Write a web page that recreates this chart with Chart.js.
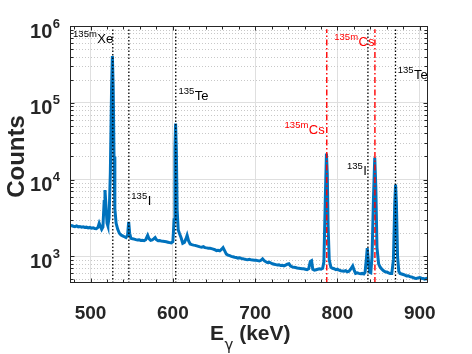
<!DOCTYPE html>
<html>
<head>
<meta charset="utf-8">
<script src="https://cdn.jsdelivr.net/npm/chart.js@4.4.0/dist/chart.umd.min.js"></script>
<style>
    html, body { margin: 0; padding: 0; background: #fff; }
</style>
</head>
<body>
<canvas id="spectrum" width="472" height="354"></canvas>
<script>
// gamma spectrum, energy (keV) / counts
const energies = [
    475, 477, 479, 481, 483, 485, 487, 489, 491, 493,
    495, 497, 499, 501, 503, 505, 507, 509, 510.5, 512,
    513.5, 515, 516.5, 517.5, 518.5, 520, 521, 522.5, 524, 525.5,
    526.5, 527.5, 528.5, 529.5, 531, 533, 535, 537, 539, 541,
    543, 545, 546.3, 547.5, 549, 551, 553, 555, 557, 559,
    561, 563, 565, 567, 569.4, 571, 573, 575, 577, 578.5,
    580, 582, 584, 586, 588, 590, 592, 594, 596, 598,
    600, 601.5, 602.5, 603.3, 604.2, 605.2, 606.5, 608, 610, 612,
    614, 616, 617.3, 619, 621, 623, 625, 627, 629, 631,
    633, 635, 637, 639, 641, 643, 645, 647, 649, 651,
    653, 655, 657, 659, 661, 663, 665, 667, 669, 671,
    673, 675, 677, 679, 681, 683, 685, 687, 689, 691,
    693, 695, 697, 699, 701, 703, 705, 707, 709, 711,
    713, 715, 717, 719, 721, 723, 725, 727, 729, 731,
    733, 735, 737, 739, 741, 743, 745, 747, 749, 751,
    753, 755, 757, 759, 761, 763, 765, 767, 768.5, 770,
    772, 774, 776, 778, 780, 782, 783.5, 785.3, 786.6, 787.6,
    788.6, 790, 792, 794, 796, 798, 800, 802, 804, 806,
    808, 810, 812, 814, 816, 818.5, 820.5, 822, 824, 826,
    828, 830, 832, 833.5, 835, 836.2, 837.5, 839, 840.5, 842,
    843.8, 845.3, 846.6, 848, 850, 852, 854, 856, 858, 860,
    862, 864, 866, 868, 869.6, 870.6, 871.6, 873, 874.5, 876,
    878, 880, 882, 884, 886, 888, 890, 892, 894, 896,
    898, 900, 902, 904, 906, 908, 910
];
const counts = [
    2490, 2520, 2470, 2440, 2490, 2420, 2450, 2400, 2430, 2380,
    2400, 2350, 2380, 2330, 2360, 2310, 2290, 2380, 2700, 2450,
    2250, 2400, 5200, 7300, 5000, 2700, 2500, 3200, 12000, 150000,
    406000, 160000, 20000, 4200, 2700, 2250, 2000, 1900, 1850, 1800,
    1760, 1900, 2810, 2000, 1720, 1700, 1680, 1650, 1630, 1640,
    1610, 1620, 1600, 1650, 1880, 1700, 1620, 1640, 1700, 1760,
    1650, 1600, 1610, 1580, 1570, 1560, 1550, 1530, 1510, 1500,
    1550, 3000, 25000, 53800, 25000, 4000, 2200, 1980, 1750, 1480,
    1520, 1700, 1880, 1600, 1450, 1420, 1400, 1390, 1370, 1350,
    1330, 1320, 1340, 1300, 1290, 1280, 1275, 1260, 1240, 1220,
    1190, 1200, 1180, 1230, 1300, 1180, 1070, 1040, 1020, 1000,
    990, 975, 965, 950, 960, 940, 930, 920, 910, 905,
    915, 900, 895, 890, 890, 880, 870, 890, 930, 880,
    850, 830, 840, 820, 800, 790, 780, 770, 775, 760,
    765, 750, 770, 790, 800, 750, 730, 720, 715, 705,
    700, 695, 690, 690, 680, 670, 690, 860, 880, 680,
    660, 670, 680, 690, 680, 700, 850, 6000, 21900, 12000,
    2500, 900, 720, 700, 690, 670, 680, 660, 650, 645,
    640, 650, 630, 640, 680, 750, 650, 600, 610, 600,
    595, 600, 590, 620, 900, 1280, 900, 620, 610, 1000,
    6000, 19400, 8000, 1300, 800, 720, 680, 650, 630, 625,
    610, 600, 600, 900, 5000, 8600, 5000, 1000, 640, 600,
    590, 580, 570, 555, 560, 545, 540, 530, 520, 515,
    525, 530, 520, 515, 505, 515, 500
];

// marker lines (keV)
const dottedLines = [527, 546.5, 603.5, 837, 870.5];
const dashDotLines = [787, 845.5];

// peak labels: mass number, element, anchor energy / counts (baseline-left of element)
const labelMass = ['135m', '135', '135', '135m', '135m', '135', '135'];
const labelElement = ['Xe', 'Te', 'I', 'Cs', 'Cs', 'I', 'Te'];
const labelEnergy = [508.2, 626.7, 569.4, 765.2, 825.6, 831.3, 893];
const labelCounts = [6.0e5, 1.1e5, 4640, 3.96e4, 5.53e5, 1.14e4, 2.07e5];
const labelRed = [false, false, false, true, true, false, false];

const xTicks = [480, 500, 520, 540, 560, 580, 600, 620, 640, 660, 680, 700, 720, 740, 760, 780, 800, 820, 840, 860, 880, 900];
const yTicks = [500, 600, 700, 800, 900,
    1e3, 2e3, 3e3, 4e3, 5e3, 6e3, 7e3, 8e3, 9e3,
    1e4, 2e4, 3e4, 4e4, 5e4, 6e4, 7e4, 8e4, 9e4,
    1e5, 2e5, 3e5, 4e5, 5e5, 6e5, 7e5, 8e5, 9e5, 1e6];

const X_MIN = 475, X_MAX = 910, Y_MIN = 450, Y_MAX = 1e6, LINE_TOP = 9.1e5;
const FONT = '"Liberation Sans", Arial, Helvetica, sans-serif';
const AXIS_COLOR = '#262626';

function isDecade(v) {
    const l = Math.log10(v);
    return Math.abs(l - Math.round(l)) < 1e-9;
}

const spectrumData = energies.map((e, i) => ({ x: e, y: counts[i] }));

const datasets = [];
dottedLines.forEach(e => datasets.push({
    data: [{ x: e, y: Y_MIN }, { x: e, y: LINE_TOP }],
    borderColor: '#000000',
    borderWidth: 1.3,
    borderDash: [1.5, 2],
    pointRadius: 0,
    order: 0
}));
dashDotLines.forEach(e => datasets.push({
    data: [{ x: e, y: Y_MIN }, { x: e, y: LINE_TOP }],
    borderColor: '#ff0000',
    borderWidth: 1.4,
    borderDash: [6, 2.5, 1.5, 2.5],
    pointRadius: 0,
    order: 0
}));
datasets.push({
    data: spectrumData,
    borderColor: '#0072BD',
    borderWidth: 3,
    pointRadius: 0,
    tension: 0,
    order: 5
});

const decor = {
    id: 'decor',
    beforeDatasetsDraw(chart) {
        const { ctx, chartArea: a, scales: { y } } = chart;
        ctx.save();
        ctx.strokeStyle = '#c8c8c8';
        ctx.lineWidth = 1;
        ctx.setLineDash([1, 2]);
        yTicks.forEach(v => {
            if (isDecade(v)) return;
            const py = Math.round(y.getPixelForValue(v)) + 0.5;
            ctx.beginPath();
            ctx.moveTo(a.left, py);
            ctx.lineTo(a.right, py);
            ctx.stroke();
        });
        ctx.restore();
    },
    afterDraw(chart) {
        const { ctx, chartArea: a, scales: { x, y } } = chart;
        const L = Math.round(a.left) + 0.5, R = Math.round(a.right) - 0.5;
        const T = Math.round(a.top) + 0.5, B = Math.round(a.bottom) - 0.5;
        ctx.save();

        // box and inward ticks
        ctx.strokeStyle = AXIS_COLOR;
        ctx.lineWidth = 1;
        ctx.strokeRect(L, T, R - L, B - T);
        ctx.beginPath();
        xTicks.forEach(v => {
            const px = Math.round(x.getPixelForValue(v)) + 0.5;
            const len = v % 100 === 0 ? 4 : 3;
            ctx.moveTo(px, B); ctx.lineTo(px, B - len);
            ctx.moveTo(px, T); ctx.lineTo(px, T + len);
        });
        yTicks.forEach(v => {
            const py = Math.round(y.getPixelForValue(v)) + 0.5;
            const len = isDecade(v) ? 4 : 3;
            ctx.moveTo(L, py); ctx.lineTo(L + len, py);
            ctx.moveTo(R, py); ctx.lineTo(R - len, py);
        });
        ctx.stroke();

        // y tick labels 10^n
        ctx.fillStyle = AXIS_COLOR;
        ctx.textBaseline = 'alphabetic';
        yTicks.filter(isDecade).forEach(v => {
            const py = y.getPixelForValue(v);
            const exp = String(Math.round(Math.log10(v)));
            ctx.font = 'bold 13px ' + FONT;
            const ew = ctx.measureText(exp).width;
            ctx.textAlign = 'left';
            ctx.fillText(exp, a.left - 10 - ew, py + 1.5);
            ctx.font = 'bold 20px ' + FONT;
            ctx.textAlign = 'right';
            ctx.fillText('10', a.left - 10 - ew - 0.5, py + 11.5);
        });

        // y title
        ctx.save();
        ctx.translate(23.5, (a.top + a.bottom) / 2 + 2);
        ctx.rotate(-Math.PI / 2);
        ctx.font = 'bold 24px ' + FONT;
        ctx.textAlign = 'center';
        ctx.fillText('Counts', 0, 0);
        ctx.restore();

        // x title E_gamma (keV)
        const GFONT = '"DejaVu Sans", ' + FONT;
        ctx.textAlign = 'left';
        ctx.font = 'bold 21px ' + FONT;
        const wE = ctx.measureText('E').width;
        const wK = ctx.measureText(' (keV)').width;
        ctx.font = '15px ' + GFONT;
        const wG = ctx.measureText('\u03b3').width;
        let tx = (a.left + a.right) / 2 + 1 - (wE + wG + wK) / 2;
        ctx.font = 'bold 21px ' + FONT;
        ctx.fillText('E', tx, 339.5);
        ctx.font = '15px ' + GFONT;
        ctx.fillText('\u03b3', tx + wE + 0.5, 349.5);
        ctx.font = 'bold 21px ' + FONT;
        ctx.fillText(' (keV)', tx + wE + wG + 0.5, 339.5);

        // peak labels
        labelElement.forEach((el, i) => {
            const px = x.getPixelForValue(labelEnergy[i]);
            const py = y.getPixelForValue(labelCounts[i]);
            ctx.fillStyle = labelRed[i] ? '#ff0000' : '#000000';
            ctx.font = '13px ' + FONT;
            ctx.textAlign = 'left';
            ctx.fillText(el, px, py);
            ctx.font = '9.5px ' + FONT;
            ctx.textAlign = 'right';
            ctx.fillText(labelMass[i], px - 0.5, py - 6);
        });
        ctx.restore();
    }
};

new Chart(document.getElementById('spectrum'), {
    type: 'line',
    data: { datasets: datasets },
    options: {
        responsive: false,
        animation: false,
        devicePixelRatio: 1,
        layout: { padding: { top: 26, right: 44, left: 0, bottom: 0 } },
        plugins: { legend: { display: false }, tooltip: { enabled: false } },
        scales: {
            x: {
                type: 'linear',
                min: X_MIN,
                max: X_MAX,
                afterBuildTicks: scale => { scale.ticks = xTicks.map(v => ({ value: v })); },
                afterFit: scale => { scale.height = 71; },
                grid: {
                    drawTicks: false,
                    color: c => (c.tick && c.tick.value % 100 === 0) ? '#dfdfdf' : 'rgba(0,0,0,0)'
                },
                border: { display: false },
                ticks: {
                    autoSkip: false,
                    maxRotation: 0,
                    padding: 19,
                    color: AXIS_COLOR,
                    font: { family: FONT, size: 19, weight: 'bold' },
                    callback: v => v % 100 === 0 ? String(v) : ''
                }
            },
            y: {
                type: 'logarithmic',
                min: Y_MIN,
                max: Y_MAX,
                afterBuildTicks: scale => { scale.ticks = yTicks.map(v => ({ value: v })); },
                afterFit: scale => { scale.width = 70; },
                grid: {
                    drawTicks: false,
                    color: c => (c.tick && isDecade(c.tick.value)) ? '#dfdfdf' : 'rgba(0,0,0,0)'
                },
                border: { display: false },
                ticks: { display: false }
            }
        }
    },
    plugins: [decor]
});
</script>
</body>
</html>
